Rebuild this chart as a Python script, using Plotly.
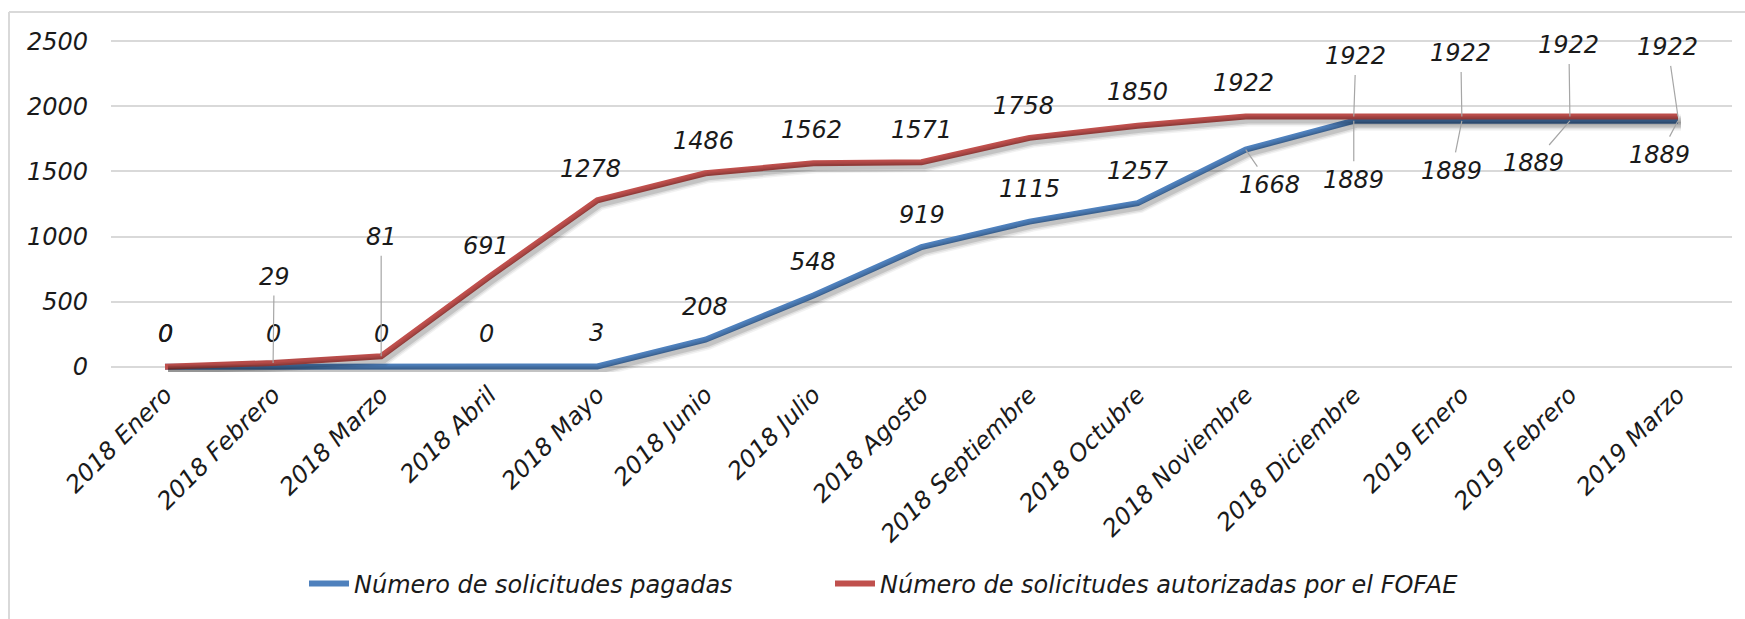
import plotly.graph_objects as go

categorias = ["2018 Enero", "2018 Febrero", "2018 Marzo", "2018 Abril", "2018 Mayo",
              "2018 Junio", "2018 Julio", "2018 Agosto", "2018 Septiembre", "2018 Octubre",
              "2018 Noviembre", "2018 Diciembre", "2019 Enero", "2019 Febrero", "2019 Marzo"]
pagadas = [0, 0, 0, 0, 3, 208, 548, 919, 1115, 1257, 1668, 1889, 1889, 1889, 1889]
autorizadas = [0, 29, 81, 691, 1278, 1486, 1562, 1571, 1758, 1850, 1922, 1922, 1922, 1922, 1922]
nombre_pagadas = "Número de solicitudes pagadas"
nombre_autorizadas = "Número de solicitudes autorizadas por el FOFAE"
y_ticks = [0, 500, 1000, 1500, 2000, 2500]

# label placement (pixel offsets of label centre from its point) and leader flags
off_aut = [(0, -33), (1, -86), (0, -119), (-3, -31), (-7, -31), (-2, -32), (-2, -33), (0, -32),
           (-6, -32), (0, -34), (-2, -33), (2, -60), (-1, -63), (-1, -71), (-10, -69)]
lead_aut = [False, True, True] + [False] * 8 + [True] * 4
off_pag = [(0, -33), (0, -33), (0, -33), (-3, -33), (-1, -33), (0, -33), (0, -33), (0, -32),
           (0, -33), (0, -32), (24, 35), (0, 59), (-10, 50), (-36, 42), (-18, 34)]
lead_pag = [False] * 10 + [True] * 5

BLUE = "#4F81BD"
RED = "#C0504D"
FAM = "DejaVu Sans"
FS = 24
FONT = dict(family=FAM, size=FS, color="#1a1a1a", style="italic")

W, H = 1745, 619
YMIN, YMAX = -40, 2540
ppu = 326 / 2500.0
L = 111
R = W - 1732
T = int(round(41 - (YMAX - 2500) * ppu))
B = int(round(H - (367 + (0 - YMIN) * ppu)))
pw, ph = W - L - R, H - T - B

fig = go.Figure()

# soft shadows (on shifted overlay axes)
for vals in (pagadas, autorizadas):
    for w, a in ((12, 0.05), (9, 0.08), (6, 0.12)):
        fig.add_trace(go.Scatter(x=categorias, y=vals, mode="lines", xaxis="x2", yaxis="y2",
                                 line=dict(color=f"rgba(0,0,0,{a})", width=w),
                                 hoverinfo="skip", showlegend=False))

fig.add_trace(go.Scatter(x=categorias, y=pagadas, mode="lines", name=nombre_pagadas,
                         line=dict(color=BLUE, width=6), legend="legend"))
fig.add_trace(go.Scatter(x=categorias, y=autorizadas, mode="lines", name=nombre_autorizadas,
                         line=dict(color=RED, width=6), legend="legend2"))

annotations = []
for vals, offs, leads in ((pagadas, off_pag, lead_pag), (autorizadas, off_aut, lead_aut)):
    for c, v, (dx, dy), ld in zip(categorias, vals, offs, leads):
        if ld:
            annotations.append(dict(x=c, y=v, xref="x", yref="y", text=str(v), showarrow=True,
                                    ax=dx, ay=dy, arrowhead=0, arrowwidth=1.2,
                                    arrowcolor="#A6A6A6", standoff=0, startstandoff=3,
                                    font=FONT))
        else:
            annotations.append(dict(x=c, y=v, xref="x", yref="y", text=str(v), showarrow=False,
                                    xshift=dx, yshift=-dy, font=FONT))


def px_x(p):
    return (p - L) / pw


def px_y(p):
    return (H - B - p) / ph


shapes = [
    dict(type="line", xref="paper", yref="paper", x0=px_x(9), x1=px_x(9), y0=px_y(12), y1=px_y(640),
         line=dict(color="#D9D9D9", width=2)),
    dict(type="line", xref="paper", yref="paper", x0=px_x(9), x1=px_x(1770), y0=px_y(12), y1=px_y(12),
         line=dict(color="#D9D9D9", width=2)),
]

dx_shift = 3 / (pw / 15)
dy_shift = 4 / ppu

legfont = dict(family=FAM, size=FS, color="#1a1a1a", style="italic")

fig.update_layout(
    width=W, height=H,
    margin=dict(l=L, r=R, t=T, b=B),
    paper_bgcolor="white", plot_bgcolor="white",
    font=FONT,
    showlegend=True,
    legend=dict(orientation="h", x=px_x(304), xanchor="left", y=px_y(584), yanchor="middle",
                font=legfont, itemwidth=40, bgcolor="rgba(0,0,0,0)"),
    legend2=dict(orientation="h", x=px_x(830), xanchor="left", y=px_y(584), yanchor="middle",
                 font=legfont, itemwidth=40, bgcolor="rgba(0,0,0,0)"),
    xaxis=dict(type="category", categoryorder="array", categoryarray=categorias,
               range=[-0.5, 14.5], tickangle=-45, showgrid=False, showline=False, zeroline=False,
               ticks="", ticklabelstandoff=3,
               tickfont=dict(family=FAM, size=FS, color="#1a1a1a", style="italic")),
    yaxis=dict(range=[YMIN, YMAX], tickvals=y_ticks, ticktext=[str(t) for t in y_ticks],
               showgrid=True, gridcolor="#D9D9D9", gridwidth=1.5, zeroline=False, showline=False,
               ticks="", ticklabelstandoff=22,
               tickfont=dict(family=FAM, size=FS, color="#1a1a1a", style="italic")),
    xaxis2=dict(type="category", categoryorder="array", categoryarray=categorias,
                overlaying="x", range=[-0.5 - dx_shift, 14.5 - dx_shift], visible=False),
    yaxis2=dict(overlaying="y", range=[YMIN + dy_shift, YMAX + dy_shift], visible=False),
    annotations=annotations,
    shapes=shapes,
)

fig.write_html("out.html", config={"displayModeBar": False},
               post_script="document.body.style.margin='0';document.body.style.overflow='hidden';")
